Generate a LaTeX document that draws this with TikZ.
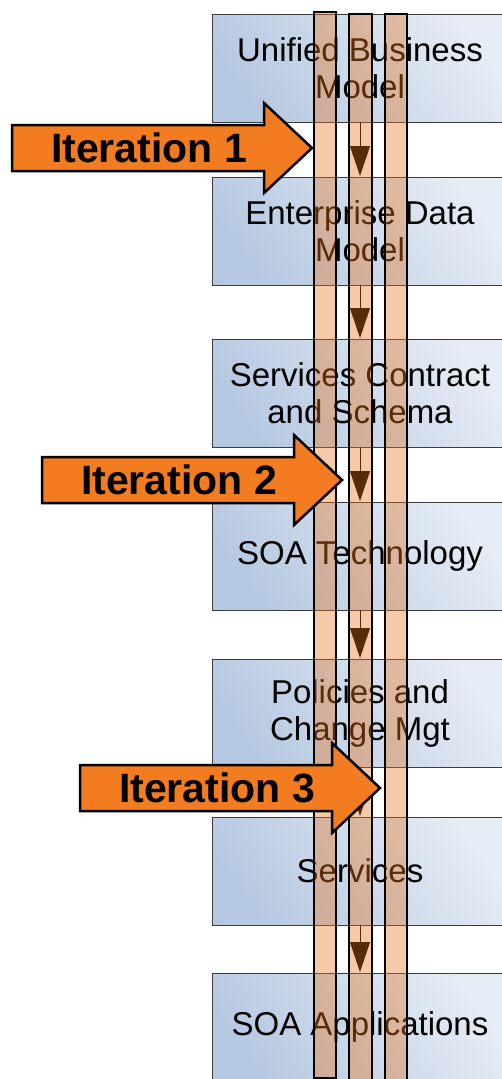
\documentclass[tikz,border=0pt]{standalone}
\usepackage{fontspec}
\setmainfont{Liberation Sans}
\usetikzlibrary{arrows.meta}

\definecolor{boxlight}{HTML}{E6ECF5}
\definecolor{boxdark}{HTML}{B6C8E1}
\definecolor{boxline}{HTML}{3C3C3C}
\definecolor{trackfill}{HTML}{E8741E}
\definecolor{iterorange}{HTML}{F37B20}

\tikzset{
  stage/.style={rectangle, draw=boxline, line width=0.9pt,
    minimum width=296pt, minimum height=108pt, inner sep=0pt, outer sep=0pt,
    top color=boxlight, bottom color=boxdark, shading angle=-55,
    align=center, font=\fontsize{33}{37}\selectfont},
  flow/.style={draw=black, line width=1pt,
    -{Triangle[length=30pt,width=20pt]}, shorten >=1pt},
  track/.style={draw=black, line width=2.5pt, fill=trackfill, fill opacity=0.38},
  iterbody/.style={draw=black, line width=2.5pt, fill=iterorange, line join=miter},
  iterlabel/.style={font=\bfseries\fontsize{41}{45}\selectfont, inner sep=0pt},
  iteration/.pic={
    \draw[iterbody] (0,0) -- (-48,-45) -- (-48,-23) -- (-300,-23)
      -- (-300,23) -- (-48,23) -- (-48,45) -- cycle;
    \node[iterlabel] (-label) at (-163,0) {\tikzpictext};
  }
}

\begin{document}
\begin{tikzpicture}[x=1pt,y=-1pt]
  \path[use as bounding box] (0,0) rectangle (502,1079);
  \clip (0,0) rectangle (502,1079);
  \fill[white] (0,0) rectangle (502,1079);

  % stages of the roadmap
  \node[stage] (b1) at (360,68)   {Unified Business\\Model};
  \node[stage] (b2) at (360,231)  {Enterprise Data\\Model};
  \node[stage] (b3) at (360,393)  {Services Contract\\and Schema};
  \node[stage] (b4) at (360,556)  {SOA Technology};
  \node[stage] (b5) at (360,713)  {Policies and\\Change Mgt};
  \node[stage] (b6) at (360,871)  {Services};
  \node[stage] (b7) at (360,1027) {SOA Applications};

  % flow between consecutive stages
  \draw[flow] (b1.south) -- (b2.north);
  \draw[flow] (b2.south) -- (b3.north);
  \draw[flow] (b3.south) -- (b4.north);
  \draw[flow] (b4.south) -- (b5.north);
  \draw[flow] (b5.south) -- (b6.north);
  \draw[flow] (b6.south) -- (b7.north);

  % translucent iteration tracks
  \path[track] (314,12) rectangle (336,1078);
  \path[track] (349,14) rectangle (372,1095);
  \path[track] (385,14) rectangle (407,1095);

  % iteration markers
  \pic[pic text=Iteration 1] (it1) at (312,148) {iteration};
  \pic[pic text=Iteration 2] (it2) at (342,480) {iteration};
  \pic[pic text=Iteration 3] (it3) at (380,788) {iteration};
\end{tikzpicture}
\end{document}
